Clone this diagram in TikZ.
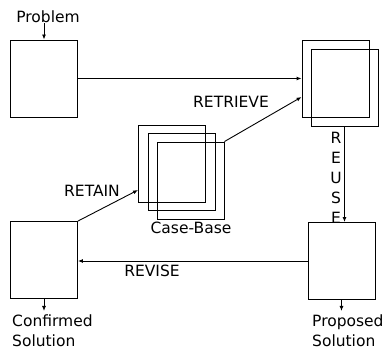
\documentclass[tikz,border=0pt]{standalone}
\usepackage{fontspec}
\setmainfont{DejaVu Sans}
\usetikzlibrary{arrows.meta}

\begin{document}
\begin{tikzpicture}[x=1pt,y=-1pt,
    box/.style={draw,line width=0.9pt,minimum width=67pt,minimum height=77pt,inner sep=0pt},
    lbl/.style={font=\fontsize{15.5}{19.5}\selectfont,inner sep=0pt},
    arr/.style={line width=0.9pt,-{Latex[length=5pt,width=4pt]}}]
    \useasboundingbox (0,0) rectangle (388,352);

    % Draw the boxes
    \node[box] (probbox) at (44,78.5) {};
    \node[box] (ret1) at (335.5,78.5) {};
    \node[box] (ret2) at (344.5,87.5) {};
    \node[box] (cb1) at (172,163.5) {};
    \node[box] (cb2) at (181.5,172) {};
    \node[box] (cb3) at (190.5,180.5) {};
    \node[box] (conf) at (44,260) {};
    \node[box] (prop) at (341.5,261) {};

    % Labels
    \node[lbl] (prob) at (48,17) {Problem};
    \node[lbl] (casebase) at (191,228) {Case-Base};
    \node[lbl,align=left,anchor=north west] (conflbl) at (12,315) {Confirmed\\Solution};
    \node[lbl,align=left,anchor=north west] (proplbl) at (312,315) {Proposed\\Solution};
    \node[lbl] (retrieve) at (231,102) {RETRIEVE};
    \node[lbl] (retain) at (92,191) {RETAIN};
    \node[lbl] (revise) at (152,271) {REVISE};
    \node[lbl,align=center,font=\fontsize{15.5}{20}\selectfont] (reuse) at (336,178) {R\\E\\U\\S\\E};

    % Arrows between the boxes
    \draw[arr] (probbox.north |- prob.south) -- (probbox.north);
    \draw[arr] (probbox.east) -- (ret1.west);
    \draw[arr] (cb3.north east) -- ([yshift=-18.5pt]ret1.west);
    \draw[arr] (ret2.south) -- (ret2.south |- prop.north);
    \draw[arr] (prop.west) -- (conf.east |- prop.west);
    \draw[arr] (conf.north east) -- ([yshift=-26.5pt]cb1.west);
    \draw[arr,shorten >=4pt] (conf.south) -- (conf.south |- conflbl.north);
    \draw[arr,shorten >=4pt] (prop.south) -- (prop.south |- proplbl.north);
\end{tikzpicture}
\end{document}
